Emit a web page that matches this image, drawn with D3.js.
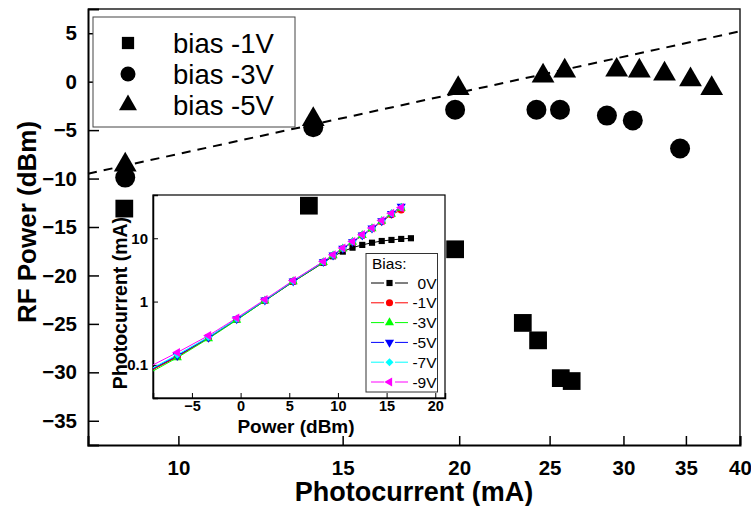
<!DOCTYPE html>
<meta charset="utf-8">
<html>
<script src="https://d3js.org/d3.v7.min.js"></script>
<style>
    body { margin: 0; background: #fff; }
    svg text { font-family: "Liberation Sans", Arial, Helvetica, sans-serif; }
</style>
<body>
<div id="chart"></div>
<script>
    // main plot: RF power vs photocurrent for three bias levels
    var curBias1 = [8.75, 13.8, 19.8, 23.4, 24.3, 25.7, 26.4];
    var rfBias1 = [-13.1, -12.8, -17.3, -24.9, -26.7, -30.6, -30.9];
    var curBias3 = [8.77, 13.95, 19.8, 24.2, 25.65, 28.8, 30.7, 34.5];
    var rfBias3 = [-9.9, -4.7, -2.9, -2.9, -2.9, -3.5, -4.0, -6.9];
    var curBias5 = [8.77, 13.95, 19.95, 24.6, 25.95, 29.5, 31.2, 33.2, 35.4, 37.3];
    var rfBias5 = [-8.6, -3.9, -0.7, 0.6, 1.1, 1.2, 1.1, 0.8, 0.2, -0.7];
    var fitCur = [8, 40];
    var fitRf = [-9.5, 5.2];
    var legendLabels = ["bias -1V", "bias -3V", "bias -5V"];
    var xTickVals = [10, 15, 20, 25, 30, 35, 40];
    var yTickVals = [-35, -30, -25, -20, -15, -10, -5, 0, 5];

    // inset: photocurrent vs optical power for six biases
    var inPower = [-9, -6.5, -3.3, -0.4, 2.5, 5.4, 8.5, 9.5, 10.5, 11.5, 12.5, 13.5, 14.5, 15.5, 16.5, 17.5];
    var in0V = [0.085, 0.135, 0.27, 0.52, 1.03, 2.05, 4.1, 5.2, 6.15, 7.1, 7.85, 8.5, 9.05, 9.4, 9.75, 10.0];
    var in1V = [0.085, 0.135, 0.265, 0.52, 1.04, 2.08, 4.2, 5.35, 6.85, 8.7, 11.1, 14.1, 18.3, 23.5, 28.0];
    var in3V = [0.08, 0.13, 0.26, 0.51, 1.03, 2.07, 4.15, 5.3, 6.8, 8.7, 11.1, 14.2, 18.6, 24.0, 30.0];
    var in5V = [0.088, 0.14, 0.27, 0.53, 1.05, 2.1, 4.25, 5.4, 6.9, 8.8, 11.2, 14.4, 18.8, 24.5, 32.0];
    var in7V = [0.09, 0.145, 0.275, 0.535, 1.06, 2.12, 4.27, 5.45, 6.95, 8.86, 11.3, 14.4, 18.9, 24.8, 30.5];
    var in9V = [0.1, 0.157, 0.29, 0.55, 1.08, 2.15, 4.3, 5.5, 7.0, 8.9, 11.4, 14.5, 19.0, 24.8, 30.5];
    var inLabels = ["0V", "-1V", "-3V", "-5V", "-7V", "-9V"];
    var inColors = ["#000000", "#ff0000", "#00ff00", "#0000ff", "#00ffff", "#ff00ff"];
    var inXTicks = [-5, 0, 5, 10, 15, 20];
    var inYTicks = [0.1, 1, 10];

    var W = 751, H = 506;
    var svg = d3.select("#chart").append("svg")
        .attr("width", W)
        .attr("height", H);

    // scales
    var x = d3.scaleLog().domain([8, 40]).range([88, 740]);
    var y = d3.scaleLinear().domain([-37.5, 7.5]).range([445, 9]);

    // minor ticks on x: 8 per 5 mA step, y: every 2.5 dB
    var xMinor = [];
    [5, 10, 15, 20, 25, 30, 35].forEach(function (m) {
        for (var k = 1; k < 9; k++) {
            var v = m + 5 * k / 9;
            if (v > 8 && v < 40) xMinor.push(v);
        }
    });
    var yMinor = d3.range(-35, 7.6, 2.5).filter(function (v) { return v % 5 !== 0; });

    // frame top/right
    svg.append("path")
        .attr("d", "M" + x(8) + "," + y(7.5) + "H" + x(40) + "V" + y(-37.5))
        .attr("fill", "none").attr("stroke", "#222").attr("stroke-width", 1.5);

    // x axis
    var gx = svg.append("g").attr("transform", "translate(0," + y(-37.5) + ")");
    gx.call(d3.axisBottom(x).tickValues(xMinor).tickSize(-5).tickFormat(""));
    gx.call(d3.axisBottom(x).tickValues(xTickVals).tickSize(-9).tickPadding(15).tickFormat(d3.format("d")));
    gx.selectAll("path.domain").attr("stroke-width", 2);
    gx.selectAll("line").attr("stroke-width", 1.5);
    gx.selectAll("text").attr("font-size", 20.5).attr("font-weight", "bold").attr("fill", "#000");

    // y axis
    var gy = svg.append("g").attr("transform", "translate(" + x(8) + ",0)");
    gy.call(d3.axisLeft(y).tickValues(yMinor).tickSize(-6).tickFormat(""));
    gy.call(d3.axisLeft(y).tickValues(yTickVals).tickSize(-11).tickPadding(11).tickFormat(d3.format("d")));
    gy.selectAll("path.domain").attr("stroke-width", 2);
    gy.selectAll("line").attr("stroke-width", 1.5);
    gy.selectAll("text").attr("font-size", 20.5).attr("font-weight", "bold").attr("fill", "#000");

    // axis titles
    svg.append("text")
        .attr("x", 414).attr("y", 501)
        .attr("text-anchor", "middle")
        .attr("font-size", 27).attr("font-weight", "bold")
        .text("Photocurrent (mA)");
    svg.append("text")
        .attr("transform", "translate(36,222) rotate(-90)")
        .attr("text-anchor", "middle")
        .attr("font-size", 26).attr("font-weight", "bold")
        .text("RF Power (dBm)");

    // dashed fit line
    svg.append("path")
        .datum(d3.zip(fitCur, fitRf))
        .attr("fill", "none")
        .attr("stroke", "#000")
        .attr("stroke-width", 2)
        .attr("stroke-dasharray", "9,7")
        .attr("d", d3.line().x(function (d) { return x(d[0]); }).y(function (d) { return y(d[1]); }));

    // ---------- inset ----------
    var ix = d3.scaleLinear().domain([-9, 21]).range([153, 445]);
    var iy = d3.scaleLog().domain([0.03, 48.2]).range([398, 195]);

    svg.append("rect")
        .attr("x", ix(-9)).attr("y", iy(48.2))
        .attr("width", ix(21) - ix(-9)).attr("height", iy(0.03) - iy(48.2))
        .attr("fill", "#fff").attr("stroke", "#000").attr("stroke-width", 1.2);

    var inset = svg.append("g");
    inset.append("clipPath").attr("id", "inclip")
        .append("rect")
        .attr("x", ix(-9)).attr("y", iy(48.2))
        .attr("width", ix(21) - ix(-9)).attr("height", iy(0.03) - iy(48.2));

    var igx = inset.append("g").attr("transform", "translate(0," + iy(0.03) + ")");
    igx.call(d3.axisBottom(ix).tickValues(d3.range(-7.5, 21, 5)).tickSize(-2.5).tickFormat(""));
    igx.call(d3.axisBottom(ix).tickValues(inXTicks).tickSize(-5).tickPadding(3).tickFormat(d3.format("d")));
    igx.selectAll("path.domain").attr("stroke-width", 1.5);
    igx.selectAll("text").attr("font-size", 14.5).attr("font-weight", "bold").attr("fill", "#000");

    var iMinor = iy.ticks().filter(function (v) { return inYTicks.indexOf(v) < 0; });
    var igy = inset.append("g").attr("transform", "translate(" + ix(-9) + ",0)");
    igy.call(d3.axisLeft(iy).tickValues(iMinor).tickSize(-2.5).tickFormat(""));
    igy.call(d3.axisLeft(iy).tickValues(inYTicks).tickSize(-5).tickPadding(5).tickFormat(d3.format("~g")));
    igy.selectAll("path.domain").attr("stroke-width", 1.5);
    igy.selectAll("text").attr("font-size", 15).attr("font-weight", "bold").attr("fill", "#000");

    inset.append("text")
        .attr("x", 296).attr("y", 433)
        .attr("text-anchor", "middle")
        .attr("font-size", 19).attr("font-weight", "bold")
        .text("Power (dBm)");
    inset.append("text")
        .attr("transform", "translate(127,303) rotate(-90)")
        .attr("text-anchor", "middle")
        .attr("font-size", 19.5).attr("font-weight", "bold")
        .text("Photocurrent (mA)");

    var inSeries = [in0V, in1V, in3V, in5V, in7V, in9V];
    var inSym = [
        { type: d3.symbolSquare, rot: 0, size: 38 },
        { type: d3.symbolCircle, rot: 0, size: 40 },
        { type: d3.symbolTriangle, rot: 0, size: 36 },
        { type: d3.symbolTriangle, rot: 180, size: 36 },
        { type: d3.symbolSquare, rot: 45, size: 32 },
        { type: d3.symbolTriangle, rot: -90, size: 36 }
    ];
    var iline = d3.line()
        .x(function (d) { return ix(d[0]); })
        .y(function (d) { return iy(d[1]); });

    var plotArea = inset.append("g").attr("clip-path", "url(#inclip)");
    inSeries.forEach(function (vals, i) {
        var pts = vals.map(function (v, j) { return [inPower[j], v]; });
        plotArea.append("path")
            .datum(pts)
            .attr("fill", "none")
            .attr("stroke", inColors[i])
            .attr("stroke-width", 1)
            .attr("d", iline);
    });
    inSeries.forEach(function (vals, i) {
        var pts = vals.map(function (v, j) { return [inPower[j], v]; })
            .filter(function (d) { return d[0] > -9; });
        plotArea.selectAll(null)
            .data(pts)
            .enter().append("path")
            .attr("transform", function (d) {
                return "translate(" + ix(d[0]) + "," + iy(d[1]) + ") rotate(" + inSym[i].rot + ")";
            })
            .attr("d", d3.symbol().type(inSym[i].type).size(inSym[i].size))
            .attr("fill", inColors[i]);
    });

    // inset legend
    var il = inset.append("g");
    il.append("rect")
        .attr("x", 366).attr("y", 253.5).attr("width", 71.5).attr("height", 138.5)
        .attr("fill", "#fff").attr("stroke", "#333").attr("stroke-width", 1);
    il.append("text").attr("x", 372).attr("y", 269).attr("font-size", 15.5).text("Bias:");
    inLabels.forEach(function (lab, i) {
        var cy = 283 + i * 19.8;
        il.append("line").attr("x1", 371).attr("x2", 384).attr("y1", cy).attr("y2", cy)
            .attr("stroke", inColors[i]).attr("stroke-width", 1);
        il.append("line").attr("x1", 395).attr("x2", 408).attr("y1", cy).attr("y2", cy)
            .attr("stroke", inColors[i]).attr("stroke-width", 1);
        il.append("path")
            .attr("transform", "translate(389.5," + cy + ") rotate(" + inSym[i].rot + ")")
            .attr("d", d3.symbol().type(inSym[i].type).size(inSym[i].size))
            .attr("fill", inColors[i]);
        il.append("text").attr("x", 436.5).attr("y", cy + 5.5)
            .attr("text-anchor", "end").attr("font-size", 15.5).text(lab);
    });

    // ---------- main markers ----------
    var mainSeries = [
        { cur: curBias1, rf: rfBias1, type: d3.symbolSquare, size: 315 },
        { cur: curBias3, rf: rfBias3, type: d3.symbolCircle, size: 314 },
        { cur: curBias5, rf: rfBias5, type: d3.symbolTriangle, size: 225 }
    ];
    mainSeries.forEach(function (s) {
        svg.selectAll(null)
            .data(d3.zip(s.cur, s.rf))
            .enter().append("path")
            .attr("transform", function (d) { return "translate(" + x(d[0]) + "," + y(d[1]) + ")"; })
            .attr("d", d3.symbol().type(s.type).size(s.size))
            .attr("fill", "#000");
    });

    // main legend
    var lg = svg.append("g");
    lg.append("rect")
        .attr("x", 93).attr("y", 17).attr("width", 202).attr("height", 110)
        .attr("fill", "#fff").attr("stroke", "#444").attr("stroke-width", 1);
    var legSym = [
        { type: d3.symbolSquare, size: 150 },
        { type: d3.symbolCircle, size: 177 },
        { type: d3.symbolTriangle, size: 140 }
    ];
    legendLabels.forEach(function (lab, i) {
        var cy = 43 + i * 31;
        lg.append("path")
            .attr("transform", "translate(128," + cy + ")")
            .attr("d", d3.symbol().type(legSym[i].type).size(legSym[i].size))
            .attr("fill", "#000");
        lg.append("text")
            .attr("x", 173).attr("y", cy + 9.5)
            .attr("font-size", 27.5)
            .text(lab);
    });
</script>
</body>
</html>
